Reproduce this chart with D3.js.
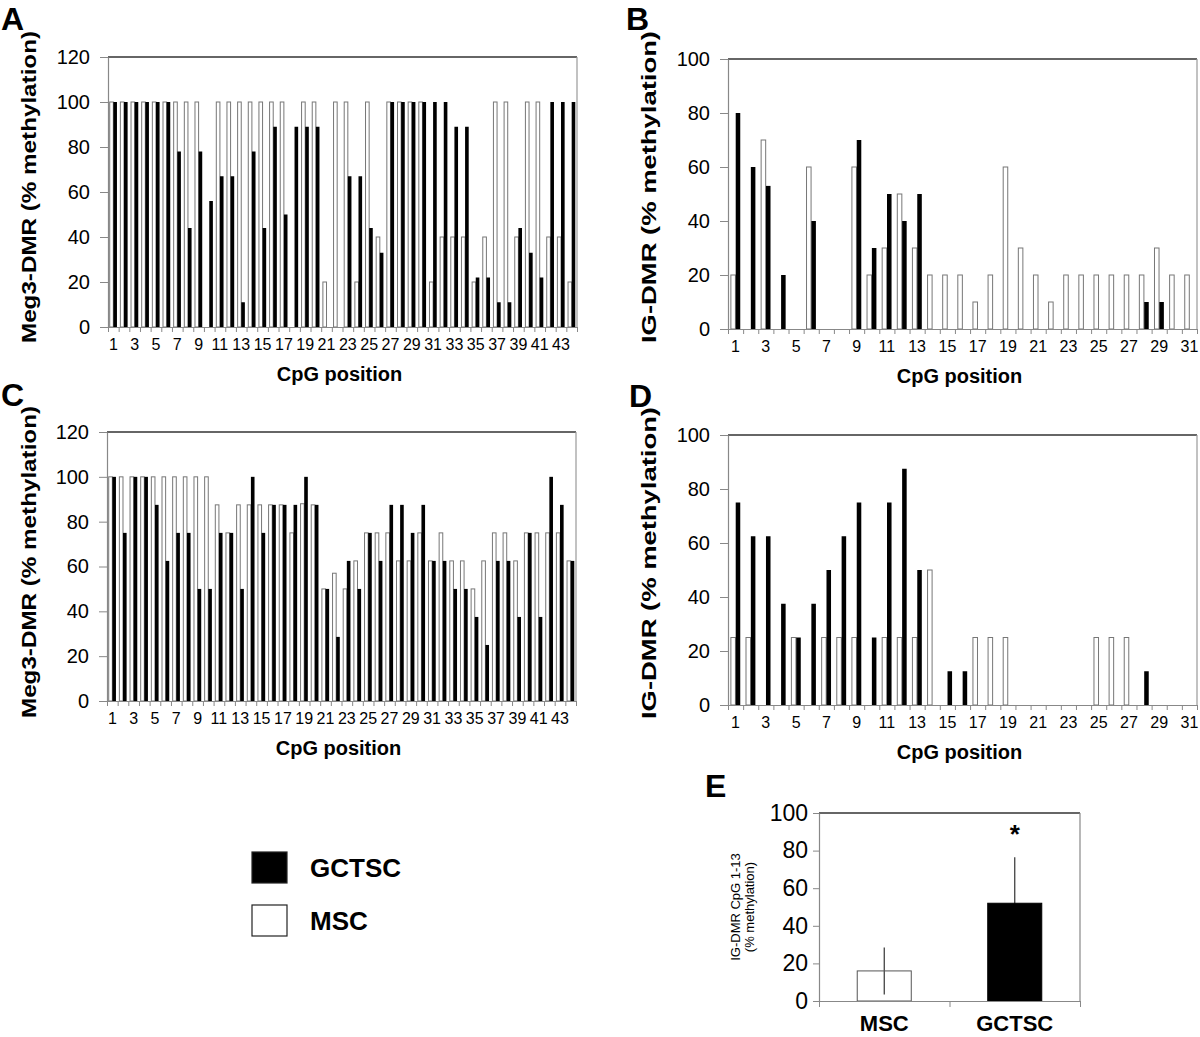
<!DOCTYPE html>
<html><head><meta charset="utf-8">
<script src="https://cdn.jsdelivr.net/npm/d3@7"></script>
<style>
body{margin:0;background:#fff}
svg{display:block}
text{font-family:"Liberation Sans",Arial,sans-serif;fill:#000}
</style>
</head><body><svg id="c" width="1200" height="1037"></svg>
<script>
// ---------- data ----------
const series = ["MSC", "GCTSC"];
const megCategories = d3.range(1, 45);   // CpG 1..44
const igCategories = d3.range(1, 32);    // CpG 1..31
const megTicks = [0, 20, 40, 60, 80, 100, 120];
const igTicks = [0, 20, 40, 60, 80, 100];

const megA_MSC = [100,100,100,100,100,100,100,100,100,0, 100,100,100,100,100,100,100,0,100,100,
                  20,100,100,20,100,40,100,100,100,100, 20,40,40,40,20,40,100,100,40,100, 100,40,40,20];
const megA_GCTSC = [100,100,100,100,100,100,78,44,78,56, 67,67,11,78,44,89,50,89,89,89,
                    0,0,67,67,44,33,100,100,100,100, 100,100,89,89,22,22,11,11,44,33, 22,100,100,100];

const igB_MSC = [20,0,70,0,0,60,0,0,60,20, 30,50,30,20,20,20,10,20,60,30, 20,10,20,20,20,20,20,20,30,20, 20];
const igB_GCTSC = [80,60,53,20,0,40,0,0,70,30, 50,40,50,0,0,0,0,0,0,0, 0,0,0,0,0,0,0,10,10,0, 0];

const megC_MSC = [100,100,100,100,100,100,100,100,100,100, 87.5,75,87.5,87.5,87.5,87.5,87.5,75,88,87.5,
                  50,57,50,62.5,75,75,75,62.5,62.5,75, 62.5,75,62.5,62.5,50,62.5,75,75,62.5,75, 75,75,75,62.5];
const megC_GCTSC = [100,75,100,100,87.5,62.5,75,75,50,50, 75,75,50,100,75,87.5,87.5,87.5,100,87.5,
                    50,28.6,62.5,50,75,62.5,87.5,87.5,75,87.5, 62.5,62.5,50,50,37.5,25,62.5,62.5,37.5,75, 37.5,100,87.5,62.5];

const igD_MSC = [25,25,0,0,25,0,25,25,25,0, 25,25,25,50,0,0,25,25,25,0, 0,0,0,0,25,25,25,0,0,0, 0];
const igD_GCTSC = [75,62.5,62.5,37.5,25,37.5,50,62.5,75,25, 75,87.5,50,0,12.5,12.5,0,0,0,0, 0,0,0,0,0,0,0,12.5,0,0, 0];

const summaryGroups = ["MSC", "GCTSC"];
const summaryMeans = [16, 52];
const summarySD = [12.5, 24.5];
const summaryTicks = [0, 20, 40, 60, 80, 100];

// ---------- drawing ----------
const svg = d3.select("#c");
const fillOf = {MSC: "#fff", GCTSC: "#000"};
const strokeOf = {MSC: "#777", GCTSC: "#000"};

function styleAxis(sel, color) {
  sel.select(".domain").attr("stroke", color).attr("stroke-width", 1.2);
  sel.selectAll(".tick line").attr("stroke", color).attr("stroke-width", 1);
}

function barPanel(o) {
  const g = svg.append("g");
  const x = d3.scaleBand().domain(o.cats).range([o.x0, o.x1]).paddingInner(o.pad).paddingOuter(o.pad / 2);
  const xb = d3.scaleLinear().domain([0, o.cats.length]).range([o.x0, o.x1]);
  const xs = d3.scaleBand().domain(series).range([0, x.bandwidth()]).paddingInner(o.inner);
  const y = d3.scaleLinear().domain([0, o.ymax]).range([o.y0, o.y1]);

  g.append("line").attr("x1", o.x0).attr("x2", o.x1).attr("y1", o.y1).attr("y2", o.y1)
    .attr("stroke", "#333").attr("stroke-width", 1.5);
  g.append("line").attr("x1", o.x1).attr("x2", o.x1).attr("y1", o.y1).attr("y2", o.y0)
    .attr("stroke", "#999").attr("stroke-width", 1.2);

  const rows = [];
  o.cats.forEach((c, i) => {
    rows.push({c, s: "MSC", v: o.msc[i]});
    rows.push({c, s: "GCTSC", v: o.gct[i]});
  });
  g.selectAll("rect.bar").data(rows.filter(d => d.v > 0)).join("rect")
    .attr("class", "bar")
    .attr("x", d => x(d.c) + xs(d.s))
    .attr("width", xs.bandwidth())
    .attr("y", d => y(d.v))
    .attr("height", d => y(0) - y(d.v))
    .attr("fill", d => fillOf[d.s])
    .attr("stroke", d => strokeOf[d.s])
    .attr("stroke-width", d => d.s === "MSC" ? 1 : 0);

  const ya = g.append("g").attr("transform", `translate(${o.x0},0)`)
    .call(d3.axisLeft(y).tickValues(o.yticks).tickSize(8).tickSizeOuter(0).tickPadding(10));
  ya.selectAll("text").attr("font-size", 20);
  styleAxis(ya, "#888");

  const xa = g.append("g").attr("transform", `translate(0,${o.y0})`)
    .call(d3.axisBottom(xb).tickValues(d3.range(o.cats.length + 1)).tickSize(5).tickSizeOuter(0).tickFormat(""));
  styleAxis(xa, "#888");
  const xl = g.append("g").attr("transform", `translate(0,${o.y0})`)
    .call(d3.axisBottom(x).tickValues(o.cats.filter(c => c % 2 === 1)).tickSize(0).tickPadding(o.lpad));
  xl.select(".domain").remove();
  xl.selectAll("text").attr("font-size", o.lsize);

  g.append("text").attr("x", (o.x0 + o.x1) / 2 - 3).attr("y", o.y0 + 54)
    .attr("text-anchor", "middle").attr("font-weight", "bold").attr("font-size", 20)
    .text("CpG position");
  g.append("text").attr("transform", `translate(${o.tx},${o.ty}) rotate(-90)`)
    .attr("text-anchor", "middle").attr("font-weight", "bold").attr("font-size", 21)
    .attr("textLength", 312).attr("lengthAdjust", "spacingAndGlyphs")
    .text(o.title);
  g.append("text").attr("x", o.lx).attr("y", o.ly).attr("font-weight", "bold").attr("font-size", 32)
    .text(o.letter);
}

barPanel({cats: megCategories, msc: megA_MSC, gct: megA_GCTSC, ymax: 120, yticks: megTicks,
  x0: 108, x1: 577, y0: 327, y1: 57, pad: 0.32, inner: 0, lpad: 12, lsize: 16,
  title: "Meg3-DMR (% methylation)", tx: 36, ty: 187, letter: "A", lx: 1, ly: 30});
barPanel({cats: igCategories, msc: igB_MSC, gct: igB_GCTSC, ymax: 100, yticks: igTicks,
  x0: 728, x1: 1197, y0: 329, y1: 59, pad: 0.38, inner: 0.06, lpad: 12, lsize: 16,
  title: "IG-DMR (% methylation)", tx: 656, ty: 187, letter: "B", lx: 626, ly: 30});
barPanel({cats: megCategories, msc: megC_MSC, gct: megC_GCTSC, ymax: 120, yticks: megTicks,
  x0: 107, x1: 576, y0: 701, y1: 432, pad: 0.32, inner: 0, lpad: 12, lsize: 16,
  title: "Meg3-DMR (% methylation)", tx: 36, ty: 562, letter: "C", lx: 1, ly: 406});
barPanel({cats: igCategories, msc: igD_MSC, gct: igD_GCTSC, ymax: 100, yticks: igTicks,
  x0: 728, x1: 1197, y0: 705, y1: 435, pad: 0.38, inner: 0.06, lpad: 12, lsize: 16,
  title: "IG-DMR (% methylation)", tx: 656, ty: 563, letter: "D", lx: 629, ly: 407});

// ---------- panel E ----------
(function () {
  const g = svg.append("g");
  const x0 = 819, x1 = 1080, y0 = 1001, y1 = 813;
  const x = d3.scaleBand().domain(summaryGroups).range([x0, x1]).paddingInner(0.586).paddingOuter(0.293);
  const xb = d3.scaleLinear().domain([0, summaryGroups.length]).range([x0, x1]);
  const y = d3.scaleLinear().domain([0, 100]).range([y0, y1]);

  g.append("line").attr("x1", x0).attr("x2", x1).attr("y1", y1).attr("y2", y1).attr("stroke", "#333").attr("stroke-width", 1.3);
  g.append("line").attr("x1", x1).attr("x2", x1).attr("y1", y1).attr("y2", y0).attr("stroke", "#888").attr("stroke-width", 1.2);

  const rows = summaryGroups.map((s, i) => ({s, m: summaryMeans[i], sd: summarySD[i]}));
  g.selectAll("line.err").data(rows).join("line").attr("class", "err")
    .attr("x1", d => x(d.s) + x.bandwidth() / 2).attr("x2", d => x(d.s) + x.bandwidth() / 2)
    .attr("y1", d => y(d.m - d.sd)).attr("y2", d => y(d.m + d.sd))
    .attr("stroke", "#333").attr("stroke-width", 1.2);
  g.selectAll("rect.bar").data(rows).join("rect").attr("class", "bar")
    .attr("x", d => x(d.s)).attr("width", x.bandwidth())
    .attr("y", d => y(d.m)).attr("height", d => y(0) - y(d.m))
    .attr("fill", d => fillOf[d.s]).attr("stroke", d => d.s === "MSC" ? "#555" : "#000").attr("stroke-width", 1)
    .attr("fill-opacity", d => d.s === "MSC" ? 0 : 1);

  const ya = g.append("g").attr("transform", `translate(${x0},0)`)
    .call(d3.axisLeft(y).tickValues(summaryTicks).tickSize(6).tickSizeOuter(0).tickPadding(5));
  ya.selectAll("text").attr("font-size", 23);
  styleAxis(ya, "#888");
  const xa = g.append("g").attr("transform", `translate(0,${y0})`)
    .call(d3.axisBottom(xb).tickValues(d3.range(summaryGroups.length + 1)).tickSize(6).tickSizeOuter(0).tickFormat(""));
  styleAxis(xa, "#888");
  const xl = g.append("g").attr("transform", `translate(0,${y0})`)
    .call(d3.axisBottom(x).tickSize(0).tickPadding(14));
  xl.select(".domain").remove();
  xl.selectAll("text").attr("font-size", 22).attr("font-weight", "bold");

  const gx = x("GCTSC") + x.bandwidth() / 2;
  g.append("text").attr("x", gx).attr("y", y(100) + 30).attr("text-anchor", "middle")
    .attr("font-size", 26).attr("font-weight", "bold").text("*");

  const lab = g.append("text").attr("transform", "translate(740,907) rotate(-90)").attr("text-anchor", "middle").attr("font-size", 13);
  lab.append("tspan").attr("x", 0).attr("dy", 0).text("IG-DMR CpG 1-13");
  lab.append("tspan").attr("x", 0).attr("dy", 14).text("(% methylation)");

  g.append("text").attr("x", 705).attr("y", 797).attr("font-weight", "bold").attr("font-size", 32).text("E");
})();

// ---------- legend ----------
(function () {
  const g = svg.append("g");
  const legendItems = ["GCTSC", "MSC"];
  const ly = d3.scalePoint().domain(legendItems).range([852, 905]);
  g.selectAll("rect").data(legendItems).join("rect")
    .attr("x", 252).attr("y", d => ly(d)).attr("width", 35).attr("height", 31)
    .attr("fill", d => fillOf[d]).attr("stroke", "#222").attr("stroke-width", 1.2);
  g.selectAll("text").data(legendItems).join("text")
    .attr("x", 310).attr("y", d => ly(d) + 25)
    .attr("font-size", 26).attr("font-weight", "bold").text(d => d);
})();
</script>
</body></html>
